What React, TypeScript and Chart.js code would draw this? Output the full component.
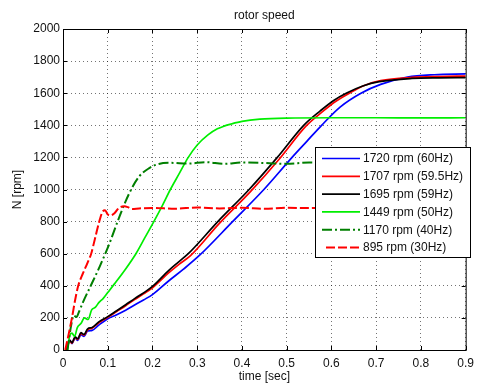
import { useEffect, useRef } from "react";
import { Chart, registerables } from "chart.js";
Chart.register(...registerables);

// ---- data (time in s, speed in rpm) ----
const t60 = [0.008, 0.015, 0.02, 0.027, 0.033, 0.04, 0.047, 0.055, 0.065, 0.08, 0.1, 0.12, 0.14, 0.16, 0.18, 0.2, 0.236, 0.27, 0.306, 0.379, 0.449, 0.512, 0.545, 0.578, 0.62, 0.666, 0.71, 0.77, 0.83, 0.9];
const n60 = [0, 60, 40, 75, 60, 95, 85, 118, 122, 155, 195, 220, 248, 280, 312, 345, 430, 505, 592, 800, 1000, 1200, 1300, 1400, 1515, 1600, 1655, 1700, 1715, 1720];

const t595 = [0.008, 0.015, 0.02, 0.027, 0.033, 0.04, 0.047, 0.055, 0.065, 0.08, 0.1, 0.12, 0.14, 0.16, 0.18, 0.2, 0.236, 0.26, 0.285, 0.35, 0.42, 0.484, 0.543, 0.58, 0.61, 0.64, 0.675, 0.71, 0.78, 0.84, 0.9];
const n595 = [0, 58, 42, 78, 66, 102, 92, 126, 136, 170, 204, 240, 276, 314, 350, 388, 480, 535, 588, 790, 990, 1192, 1395, 1485, 1550, 1600, 1650, 1678, 1698, 1704, 1707];

const t59 = [0.008, 0.015, 0.02, 0.027, 0.033, 0.04, 0.047, 0.055, 0.065, 0.08, 0.1, 0.12, 0.14, 0.16, 0.18, 0.2, 0.236, 0.258, 0.28, 0.346, 0.416, 0.479, 0.538, 0.575, 0.605, 0.633, 0.67, 0.707, 0.78, 0.84, 0.9];
const n59 = [0, 62, 45, 82, 70, 108, 97, 132, 140, 175, 208, 245, 282, 320, 356, 396, 495, 548, 600, 800, 1000, 1200, 1400, 1490, 1555, 1600, 1645, 1672, 1692, 1696, 1697];

const t50 = [0.01, 0.015, 0.02, 0.026, 0.032, 0.04, 0.048, 0.056, 0.064, 0.072, 0.08, 0.09, 0.1, 0.115, 0.14, 0.163, 0.183, 0.203, 0.222, 0.24, 0.26, 0.28, 0.3, 0.324, 0.345, 0.36, 0.376, 0.4, 0.44, 0.5, 0.6, 0.7, 0.8, 0.9];
const n50 = [0, 90, 105, 85, 140, 165, 200, 190, 250, 265, 295, 322, 358, 412, 505, 600, 700, 800, 900, 1000, 1100, 1200, 1277, 1340, 1378, 1395, 1408, 1424, 1438, 1445, 1447, 1447, 1446, 1447];

const t40 = [0.01, 0.018, 0.024, 0.03, 0.036, 0.045, 0.062, 0.082, 0.104, 0.126, 0.148, 0.17, 0.192, 0.214, 0.24, 0.28, 0.32, 0.36, 0.4, 0.45, 0.5, 0.55, 0.6, 0.7, 0.8, 0.9];
const n40 = [0, 150, 215, 205, 240, 300, 400, 520, 665, 830, 976, 1080, 1132, 1159, 1166, 1162, 1170, 1160, 1168, 1165, 1160, 1168, 1165, 1165, 1165, 1165];

const t30 = [0.005, 0.012, 0.02, 0.027, 0.034, 0.045, 0.055, 0.063, 0.072, 0.082, 0.088, 0.094, 0.1, 0.106, 0.115, 0.125, 0.137, 0.145, 0.155, 0.17, 0.2, 0.25, 0.3, 0.35, 0.4, 0.45, 0.5, 0.55, 0.6, 0.7, 0.8, 0.9];
const n30 = [0, 90, 200, 310, 400, 480, 545, 600, 700, 810, 860, 870, 845, 838, 852, 885, 895, 890, 878, 882, 885, 880, 888, 882, 886, 880, 886, 884, 885, 885, 885, 885];

const legendLabels = ["1720 rpm (60Hz)", "1707 rpm (59.5Hz)", "1695 rpm (59Hz)", "1449 rpm (50Hz)", "1170 rpm (40Hz)", "895 rpm (30Hz)"];
const xTickValues = [0, 0.1, 0.2, 0.3, 0.4, 0.5, 0.6, 0.7, 0.8, 0.9];
const yTickValues = [0, 200, 400, 600, 800, 1000, 1200, 1400, 1600, 1800, 2000];

const FONT = "'Liberation Sans', Arial, sans-serif";

const pts = (t: number[], n: number[]) => t.map((x, i) => ({ x, y: n[i] }));

const seriesStyles = [
  { color: "#0000ff", dash: [] as number[], width: 1.7 },
  { color: "#ff0000", dash: [] as number[], width: 1.7 },
  { color: "#000000", dash: [] as number[], width: 1.7 },
  { color: "#00ee00", dash: [] as number[], width: 1.7 },
  { color: "#007f00", dash: [10, 3, 2, 3], width: 2 },
  { color: "#ff0000", dash: [9, 3], width: 2 },
];

const framePlugin = {
  id: "frameLegend",
  afterDatasetsDraw(chart: any) {
    const { ctx, chartArea: a, scales } = chart;
    ctx.save();
    ctx.strokeStyle = "#000";
    ctx.lineWidth = 1;
    ctx.setLineDash([]);
    ctx.beginPath();
    for (const v of xTickValues) {
      const px = Math.round(scales.x.getPixelForValue(v)) + 0.5;
      ctx.moveTo(px, a.bottom);
      ctx.lineTo(px, a.bottom - 4);
      ctx.moveTo(px, a.top);
      ctx.lineTo(px, a.top + 4);
    }
    for (const v of yTickValues) {
      const py = Math.round(scales.y.getPixelForValue(v)) + 0.5;
      ctx.moveTo(a.left, py);
      ctx.lineTo(a.left + 4, py);
      ctx.moveTo(a.right, py);
      ctx.lineTo(a.right - 4, py);
    }
    ctx.stroke();
    ctx.strokeRect(a.left + 0.5, a.top + 0.5, a.right - a.left, a.bottom - a.top);

    // legend box inside the axes
    const bx = 315, by = 147, bw = 155, bh = 110;
    ctx.fillStyle = "#fff";
    ctx.fillRect(bx, by, bw, bh);
    ctx.strokeRect(bx + 0.5, by + 0.5, bw, bh);
    ctx.font = "12px " + FONT;
    ctx.textBaseline = "middle";
    ctx.textAlign = "left";
    legendLabels.forEach((label, i) => {
      const s = seriesStyles[i];
      const y = 158.5 + i * 17.8;
      ctx.beginPath();
      ctx.strokeStyle = s.color;
      ctx.lineWidth = s.width;
      ctx.setLineDash(s.dash);
      ctx.moveTo(i === 5 ? 326 : 322, y);
      ctx.lineTo(360, y);
      ctx.stroke();
      ctx.setLineDash([]);
      ctx.fillStyle = "#111";
      ctx.fillText(label, 363, y + 0.5);
    });
    ctx.restore();
  },
};

export default function App() {
  const ref = useRef<HTMLCanvasElement | null>(null);
  useEffect(() => {
    if (!ref.current) return;
    const series = [pts(t60, n60), pts(t595, n595), pts(t59, n59), pts(t50, n50), pts(t40, n40), pts(t30, n30)];
    const orders = [6, 5, 4, 3, 2, 1];
    const chart = new Chart(ref.current, {
      type: "line",
      data: {
        datasets: series.map((d, i) => ({
          label: legendLabels[i],
          data: d,
          borderColor: seriesStyles[i].color,
          backgroundColor: seriesStyles[i].color,
          borderWidth: seriesStyles[i].width,
          borderDash: seriesStyles[i].dash,
          pointRadius: 0,
          fill: false,
          cubicInterpolationMode: "monotone" as const,
          order: orders[i],
        })),
      },
      options: {
        responsive: true,
        maintainAspectRatio: false,
        animation: false,
        layout: { padding: { top: 0, right: 9, left: 0, bottom: 0 } },
        plugins: {
          legend: { display: false },
          tooltip: { enabled: false },
          title: {
            display: true,
            text: "rotor speed",
            fullSize: false,
            color: "#111",
            font: { family: FONT, size: 12, weight: "normal" },
            padding: { top: 8, bottom: 6.6 },
          },
        },
        scales: {
          x: {
            type: "linear",
            min: 0,
            max: 0.9,
            afterFit: (s: any) => { s.height = 35; },
            afterBuildTicks: (s: any) => { s.ticks = xTickValues.map((v) => ({ value: v })); },
            grid: { color: "rgba(0,0,0,0.55)", drawTicks: false, lineWidth: 1 },
            border: { display: false, dash: [1, 3] },
            ticks: {
              color: "#111",
              padding: 6,
              maxRotation: 0,
              font: { family: FONT, size: 12 },
              callback: (v: any) => (Math.round(Number(v) * 10) / 10).toString(),
            },
            title: {
              display: true,
              text: "time [sec]",
              color: "#111",
              font: { family: FONT, size: 12 },
              padding: { top: 0, bottom: 1 },
            },
          },
          y: {
            type: "linear",
            min: 0,
            max: 2000,
            afterFit: (s: any) => { s.width = 63; },
            afterBuildTicks: (s: any) => { s.ticks = yTickValues.map((v) => ({ value: v })); },
            grid: { color: "rgba(0,0,0,0.55)", drawTicks: false, lineWidth: 1 },
            border: { display: false, dash: [1, 3] },
            ticks: {
              color: "#111",
              padding: 3,
              font: { family: FONT, size: 12 },
              callback: (v: any) => String(Math.round(Number(v))),
            },
            title: {
              display: true,
              text: "N [rpm]",
              color: "#111",
              font: { family: FONT, size: 12 },
              padding: { top: 10, bottom: 0 },
            },
          },
        },
      },
      plugins: [framePlugin],
    });
    return () => chart.destroy();
  }, []);
  return (
    <div style={{ position: "fixed", left: 0, top: 0, width: 480, height: 385, background: "#fff" }}>
      <canvas ref={ref} />
    </div>
  );
}
